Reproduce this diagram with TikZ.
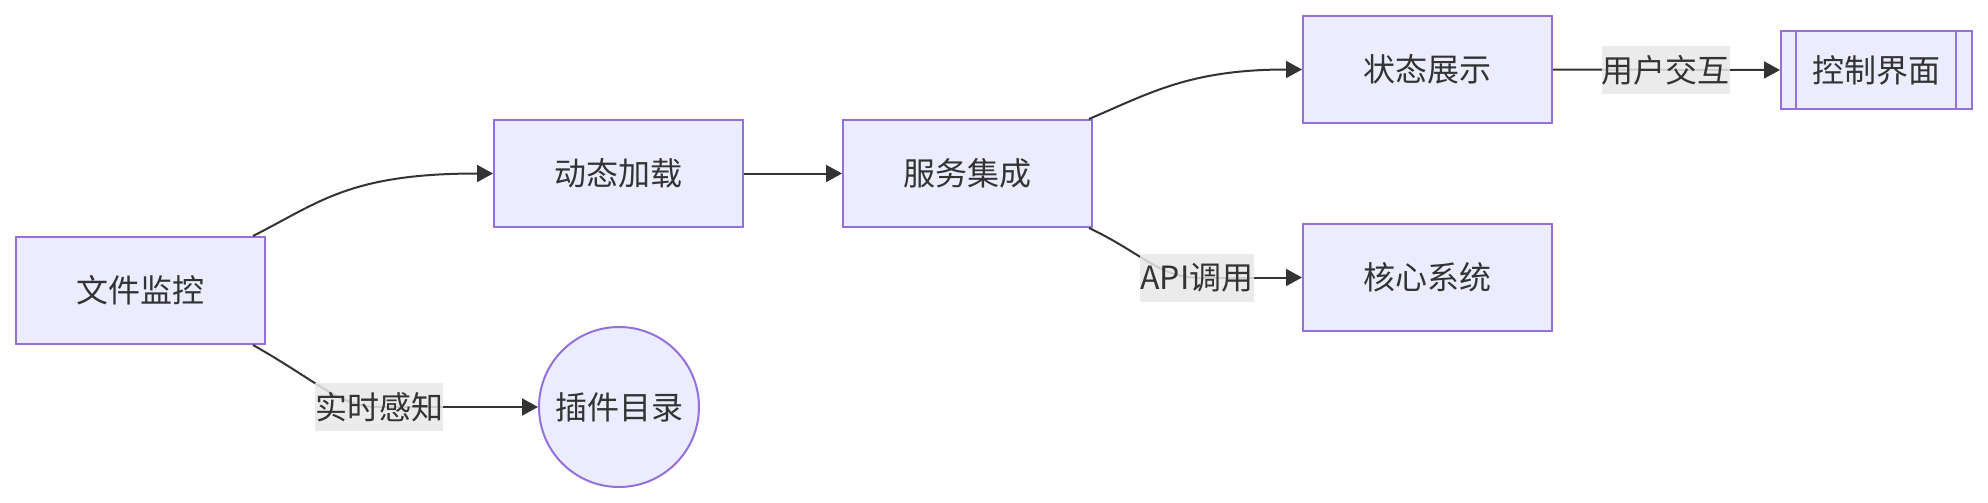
\documentclass[tikz,border=0pt]{standalone}
\usepackage{fontspec}
\setmainfont{Noto Sans CJK SC}
\usetikzlibrary{arrows.meta,calc}
\definecolor{nodefill}{HTML}{ECECFF}
\definecolor{nodedraw}{HTML}{9370DB}
\definecolor{edgecol}{HTML}{333333}
\definecolor{labelbg}{HTML}{E8E8E8}
\begin{document}
\begin{tikzpicture}[x=0.5pt,y=-0.5pt,
  base/.style={draw=nodedraw, fill=nodefill, line width=1pt, inner sep=0pt, text=edgecol, font=\fontsize{16pt}{20pt}\selectfont},
  box/.style={base, rectangle, minimum width=124.5pt, minimum height=53.5pt},
  procbox/.style={base, rectangle, minimum width=95.5pt, minimum height=39pt},
  roundnode/.style={base, circle, minimum size=80pt},
  elabel/.style={fill=labelbg, fill opacity=0.85, text opacity=1, text=edgecol, inner xsep=0pt, inner ysep=0pt, minimum height=24pt, font=\fontsize{16pt}{20pt}\selectfont},
  edge/.style={draw=edgecol, line width=1pt, -{Triangle[length=8pt,width=8.5pt]}},
  plain/.style={draw=edgecol, line width=1pt}
]
\useasboundingbox (0,0) rectangle (1988,503);

\node[box] (fm) at (140.5,290.5) {文件监控};
\node[roundnode] (pd) at (619,407) {插件目录};
\node[box] (dl) at (618.5,173.5) {动态加载};
\node[box] (si) at (967.5,173.5) {服务集成};
\node[box] (sd) at (1427.5,69.5) {状态展示};
\node[box] (cs) at (1427.5,277.5) {核心系统};
\node[procbox] (ci) at (1876.5,70) {控制界面};
\draw[draw=nodedraw, line width=1pt] ($(ci.north west)+(16,0)$) -- ($(ci.south west)+(16,0)$);
\draw[draw=nodedraw, line width=1pt] ($(ci.north east)+(-17,0)$) -- ($(ci.south east)+(-17,0)$);

% edges
\draw[edge] ($(fm.north east)+(-13,0)$) .. controls (320,202) and (350,173.5) .. (dl.west);
\coordinate (l1) at (379,407);
\draw[plain] ($(fm.south east)+(-13,0)$) .. controls (320,383) and (340,407) .. (l1);
\draw[edge] (l1) -- (pd.west);
\node[elabel] at (l1) {实时感知};

\draw[edge] (dl.east) -- (si.west);

\draw[edge] ($(si.north east)+(-4,0)$) .. controls (1150,93) and (1190,69.5) .. (sd.west);

\coordinate (l2) at (1197,277.5);
\draw[plain] ($(si.south east)+(-4,0)$) .. controls (1140,252) and (1160,277.5) .. (l2);
\draw[edge] (l2) -- (cs.west);
\node[elabel] at (l2) {API调用};

\coordinate (l3) at (1665.5,70);
\draw[edge] (sd.east) -- (ci.west);
\node[elabel] at (l3) {用户交互};
\end{tikzpicture}
\end{document}
